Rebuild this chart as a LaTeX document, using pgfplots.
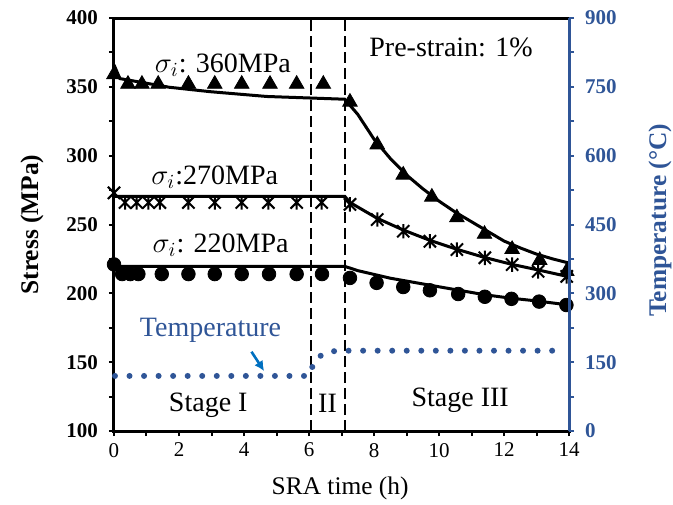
\documentclass[border=0pt]{standalone}
\usepackage{fontspec}
\setmainfont{Liberation Serif}
\usepackage{pgfplots}
\pgfplotsset{compat=1.18}
\usetikzlibrary{arrows.meta}
\definecolor{tblue}{RGB}{47,85,151}
\definecolor{arrblue}{RGB}{0,112,192}

% x with a vertical bar, like the spreadsheet star marker
\pgfdeclareplotmark{xstar}{%
  \pgfpathmoveto{\pgfqpoint{-0.85\pgfplotmarksize}{-0.85\pgfplotmarksize}}%
  \pgfpathlineto{\pgfqpoint{0.85\pgfplotmarksize}{0.85\pgfplotmarksize}}%
  \pgfpathmoveto{\pgfqpoint{-0.85\pgfplotmarksize}{0.85\pgfplotmarksize}}%
  \pgfpathlineto{\pgfqpoint{0.85\pgfplotmarksize}{-0.85\pgfplotmarksize}}%
  \pgfpathmoveto{\pgfqpoint{0pt}{-\pgfplotmarksize}}%
  \pgfpathlineto{\pgfqpoint{0pt}{\pgfplotmarksize}}%
  \pgfusepathqstroke}

\begin{document}
\begin{tikzpicture}
\useasboundingbox (-57pt,-36.5pt) rectangle (279.5pt,215.5pt);
% stress axis
\begin{axis}[
    scale only axis,
    width=227.5pt, height=206.5pt,
    xmin=0, xmax=14, ymin=100, ymax=400,
    xtick={0,2,...,14}, minor x tick num=1,
    ytick={100,150,...,400}, minor y tick num=1,
    xtick pos=bottom, ytick pos=left,
    tick align=outside,
    major tick length=2.5pt, minor tick length=2.5pt,
    every tick/.style={black, line width=1pt},
    axis line style={line width=1.5pt},
    /pgf/number format/assume math mode=true,
    xticklabel style={font=\fontsize{10.5}{12}\selectfont},
    yticklabel style={font=\fontsize{10.5}{12}\selectfont\bfseries, xshift=-2pt},
    xlabel={SRA time (h)},
    ylabel={Stress (MPa)},
    xlabel style={font=\fontsize{12.7}{14}\selectfont, at={(axis description cs:0.497,-0.138)}, anchor=center},
    ylabel style={font=\fontsize{12.7}{14}\selectfont\bfseries, at={(axis description cs:-0.18,0.5)}, anchor=center},
    clip=false,
]
% sigma_i = 360 MPa
\addplot[black, line width=1.5pt] coordinates {
    (0,366) (0.18,356) (1.7,349.7) (2.95,346.5) (4.7,343) (7.1,341)
    (7.5,330) (8,312) (8.5,298) (9,286) (9.5,276) (10,267) (10.5,259)
    (11,252) (11.5,245) (12,238) (12.5,233) (13,228.5) (13.5,225) (14,222)};
\addplot[only marks, mark=triangle*, mark size=4.2pt, black] coordinates {
    (0,359) (0.43,352) (0.86,352) (1.36,352) (2.29,352) (3.1,352) (3.93,352)
    (4.8,352) (5.62,352) (6.44,352) (7.26,339) (8.1,308) (8.9,286) (9.78,270)
    (10.55,255) (11.4,243) (12.25,232) (13.1,224) (13.93,216)};
% sigma_i = 270 MPa
\addplot[black, line width=1.5pt] coordinates {
    (0,270.5) (7.1,270.5) (7.26,266) (8.1,254.5) (8.9,246) (9.72,238.5)
    (10.55,232) (11.41,226) (12.25,221) (13.05,217) (14,212)};
\addplot[only marks, mark=xstar, mark size=3.6pt, mark options={line width=1pt}, black] coordinates {
    (0,273) (0.34,266) (0.7,266) (1.06,266) (1.41,266) (2.29,266) (3.1,266)
    (3.93,266) (4.75,266) (5.62,266) (6.39,266) (7.26,264.6) (8.1,253.6)
    (8.9,245.1) (9.72,237.8) (10.55,231.8) (11.41,225.8) (12.25,220.9)
    (13.05,216) (13.93,212.3)};
% sigma_i = 220 MPa
\addplot[black, line width=1.5pt] coordinates {
    (0,219.6) (7.1,219.6) (7.5,216.5) (8.5,211) (9.7,206) (11.4,199)
    (12.2,196.5) (13,194.5) (14,191.5)};
\addplot[only marks, mark=*, mark size=3.4pt, black] coordinates {
    (0,221) (0.25,214) (0.5,214) (0.75,214) (1.47,214) (2.29,214) (3.1,214)
    (3.93,214) (4.77,214) (5.62,214) (6.4,214) (7.26,211.2) (8.08,207.6)
    (8.9,204.6) (9.72,202.2) (10.59,199.5) (11.41,197.5) (12.23,196)
    (13.08,194) (13.92,191.5)};
% stage boundaries
\draw[black, line width=1pt, dash pattern=on 5.5pt off 2.5pt] (axis cs:6.05,100) -- (axis cs:6.05,400);
\draw[black, line width=1pt, dash pattern=on 5.5pt off 2.5pt] (axis cs:7.1,100) -- (axis cs:7.1,400);
% annotations
\node[font=\fontsize{14}{16}\selectfont] at (axis cs:3.35,365.5) {$\sigma_i$: 360MPa};
\node[font=\fontsize{14}{16}\selectfont] at (axis cs:3.1,284.5) {$\sigma_i$:270MPa};
\node[font=\fontsize{14}{16}\selectfont] at (axis cs:3.28,235) {$\sigma_i$: 220MPa};
\node[font=\fontsize{14}{16}\selectfont] at (axis cs:10.37,379) {Pre-strain: 1\%};
\node[font=\fontsize{14}{16}\selectfont, text=tblue] at (axis cs:2.97,173.5) {Temperature};
\node[font=\fontsize{14}{16}\selectfont] at (axis cs:2.9,119) {Stage I};
\node[font=\fontsize{14}{16}\selectfont] at (axis cs:6.57,120) {II};
\node[font=\fontsize{14}{16}\selectfont] at (axis cs:10.65,122) {Stage III};
\draw[-{Latex[length=5pt,width=5pt]}, arrblue, line width=1.3pt] (axis cs:4.23,157.6) -- (axis cs:4.62,143.5);
\end{axis}
% temperature axis
\begin{axis}[
    scale only axis,
    width=227.5pt, height=206.5pt,
    xmin=0, xmax=14, ymin=0, ymax=900,
    axis x line=none,
    axis y line*=right,
    ytick={0,150,...,900}, minor y tick num=1,
    tick align=outside,
    major tick length=2.5pt, minor tick length=2.5pt,
    every tick/.style={tblue, line width=1pt},
    y axis line style={tblue, line width=1.5pt},
    /pgf/number format/assume math mode=true,
    yticklabel style={font=\fontsize{10.5}{12}\selectfont\bfseries, text=tblue, xshift=2pt},
    ylabel={Temperature (°C)},
    ylabel style={font=\fontsize{12.7}{14}\selectfont\bfseries, text=tblue, at={(axis description cs:1.2,0.51)}, anchor=center},
    clip=false,
]
\addplot[tblue, line width=3pt, line cap=round, dash pattern=on 0pt off 7.27pt] coordinates {
    (0.03,120) (6.0,120) (6.08,136) (6.2,156) (6.5,171) (6.87,175) (13.7,175)};
\end{axis}
\end{tikzpicture}
\end{document}
